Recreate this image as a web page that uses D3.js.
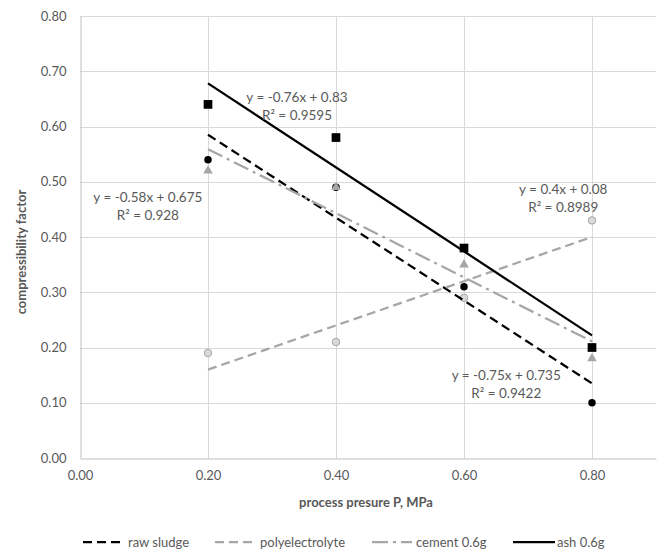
<!DOCTYPE html>
<html>
<head>
<meta charset="utf-8">
<script src="https://cdn.jsdelivr.net/npm/d3@7"></script>
<style>
  body { margin: 0; background: #fff; }
  text { font-family: Lato, "Liberation Sans", sans-serif; fill: #595959; }
</style>
</head>
<body>
<svg width="660" height="551"></svg>
<script>
// pressure values (MPa)
var pressure = [0.2, 0.4, 0.6, 0.8];

// compressibility factor per series
var rawSludge = [0.54, 0.49, 0.31, 0.10];
var polyelectrolyte = [0.19, 0.21, 0.29, 0.43];
var cement = [0.52, 0.49, 0.35, 0.18];
var ash = [0.64, 0.58, 0.38, 0.20];

var seriesNames = ["raw sludge", "polyelectrolyte", "cement 0.6g", "ash 0.6g"];
var equations = ["y = -0.75x + 0.735", "y = 0.4x + 0.08", "y = -0.58x + 0.675", "y = -0.76x + 0.83"];
var rSquared = ["R\u00b2 = 0.9422", "R\u00b2 = 0.8989", "R\u00b2 = 0.928", "R\u00b2 = 0.9595"];

var xTicks = [0, 0.2, 0.4, 0.6, 0.8];
var yTicks = [0, 0.1, 0.2, 0.3, 0.4, 0.5, 0.6, 0.7, 0.8];

var svg = d3.select("svg");
var plotLeft = 80, plotTop = 16, plotRight = 656, plotBottom = 458;

var x = d3.scaleLinear().domain([0, 0.9]).range([plotLeft, plotRight]);
var y = d3.scaleLinear().domain([0, 0.8]).range([plotBottom, plotTop]);

// look of each series, in legend order
var styles = [
	{ data: rawSludge, line: "#000", dash: "9,5", marker: "circle", fill: "#000", stroke: "none" },
	{ data: polyelectrolyte, line: "#a6a6a6", dash: "9,5", marker: "circle", fill: "#d9d9d9", stroke: "#a6a6a6" },
	{ data: cement, line: "#a6a6a6", dash: "16,5,3,5", marker: "triangle", fill: "#a6a6a6", stroke: "none" },
	{ data: ash, line: "#000", dash: null, marker: "square", fill: "#000", stroke: "none" }
];

// where the trendline labels sit (data coords of the first line's centre)
var labelPos = [[0.666, 0.150], [0.755, 0.487], [0.106, 0.472], [0.339, 0.653]];

// gridlines
svg.append("g").selectAll("line")
	.data(yTicks.slice(1))
	.enter().append("line")
	.attr("x1", plotLeft).attr("x2", plotRight)
	.attr("y1", (d) => Math.round(y(d)) + 0.5).attr("y2", (d) => Math.round(y(d)) + 0.5)
	.style("stroke", "#d9d9d9");

svg.append("g").selectAll("line")
	.data(xTicks.slice(1))
	.enter().append("line")
	.attr("x1", (d) => Math.round(x(d)) + 0.5).attr("x2", (d) => Math.round(x(d)) + 0.5)
	.attr("y1", plotTop).attr("y2", plotBottom)
	.style("stroke", "#d9d9d9");

// axes
var xAxis = svg.append("g")
	.attr("transform", "translate(0," + (plotBottom + 0.5) + ")")
	.call(d3.axisBottom(x).tickValues(xTicks).tickSize(0).tickPadding(12).tickFormat(d3.format(".2f")));
var yAxis = svg.append("g")
	.attr("transform", "translate(" + (plotLeft + 0.5) + ",0)")
	.call(d3.axisLeft(y).tickValues(yTicks).tickSize(0).tickPadding(14).tickFormat(d3.format(".2f")));
[xAxis, yAxis].forEach(function (a) {
	a.select(".domain").style("stroke", "#bfbfbf");
	a.selectAll("text").style("font-size", "13px").style("fill", "#595959")
		.style("font-family", "Lato, sans-serif");
});

// least squares trendline for one series
function fit(values) {
	var mx = d3.mean(pressure), my = d3.mean(values);
	var sxy = d3.sum(pressure, (p, i) => (p - mx) * (values[i] - my));
	var sxx = d3.sum(pressure, (p) => (p - mx) * (p - mx));
	var b = sxy / sxx;
	return { slope: b, intercept: my - b * mx };
}

var symbols = { circle: d3.symbolCircle, triangle: d3.symbolTriangle, square: d3.symbolSquare };
var sizes = { circle: 44, triangle: 40, square: 76 };

// markers, drawn poly first so raw sludge sits on top of it
[1, 0, 2, 3].forEach(function (k) {
	var s = styles[k];
	svg.append("g").selectAll("path")
		.data(s.data)
		.enter().append("path")
		.attr("d", d3.symbol().type(symbols[s.marker]).size(sizes[s.marker]))
		.attr("transform", (d, i) => "translate(" + x(pressure[i]) + "," + y(d) + ")")
		.style("fill", s.fill)
		.style("stroke", s.stroke);
});

// trendlines
styles.forEach(function (s) {
	var f = fit(s.data);
	var x0 = d3.min(pressure), x1 = d3.max(pressure);
	svg.append("line")
		.attr("x1", x(x0)).attr("y1", y(f.intercept + f.slope * x0))
		.attr("x2", x(x1)).attr("y2", y(f.intercept + f.slope * x1))
		.style("stroke", s.line)
		.style("stroke-width", 2.25)
		.style("stroke-dasharray", s.dash);
});

// trendline equations
labelPos.forEach(function (p, k) {
	var t = svg.append("text")
		.attr("x", x(p[0])).attr("y", y(p[1]))
		.attr("text-anchor", "middle")
		.attr("dominant-baseline", "central")
		.style("font-size", "13.5px");
	t.append("tspan").attr("x", x(p[0])).text(equations[k]);
	t.append("tspan").attr("x", x(p[0])).attr("dy", 18).text(rSquared[k]);
});

// axis titles
svg.append("text")
	.attr("x", 366).attr("y", 502)
	.attr("text-anchor", "middle")
	.attr("dominant-baseline", "central")
	.style("font-size", "13px").style("font-weight", "bold")
	.text("process presure P, MPa");

svg.append("text")
	.attr("transform", "translate(21,252) rotate(-90)")
	.attr("text-anchor", "middle")
	.attr("dominant-baseline", "central")
	.style("font-size", "13px").style("font-weight", "bold")
	.text("compressibility factor");

// legend
var legendX = [83, 215, 372, 513];
var legendY = 542;
var legend = svg.append("g").selectAll("g")
	.data(styles)
	.enter().append("g")
	.attr("transform", (d, i) => "translate(" + legendX[i] + "," + legendY + ")");
legend.append("line")
	.attr("x1", 0).attr("x2", (d, i) => i == 3 ? 42 : 40)
	.style("stroke", (d) => d.line)
	.style("stroke-width", 2.25)
	.style("stroke-dasharray", (d) => d.dash);
legend.append("text")
	.attr("x", (d, i) => i < 2 ? 45 : 44)
	.attr("dominant-baseline", "central")
	.style("font-size", "13px")
	.text((d, i) => seriesNames[i]);
</script>
</body>
</html>
